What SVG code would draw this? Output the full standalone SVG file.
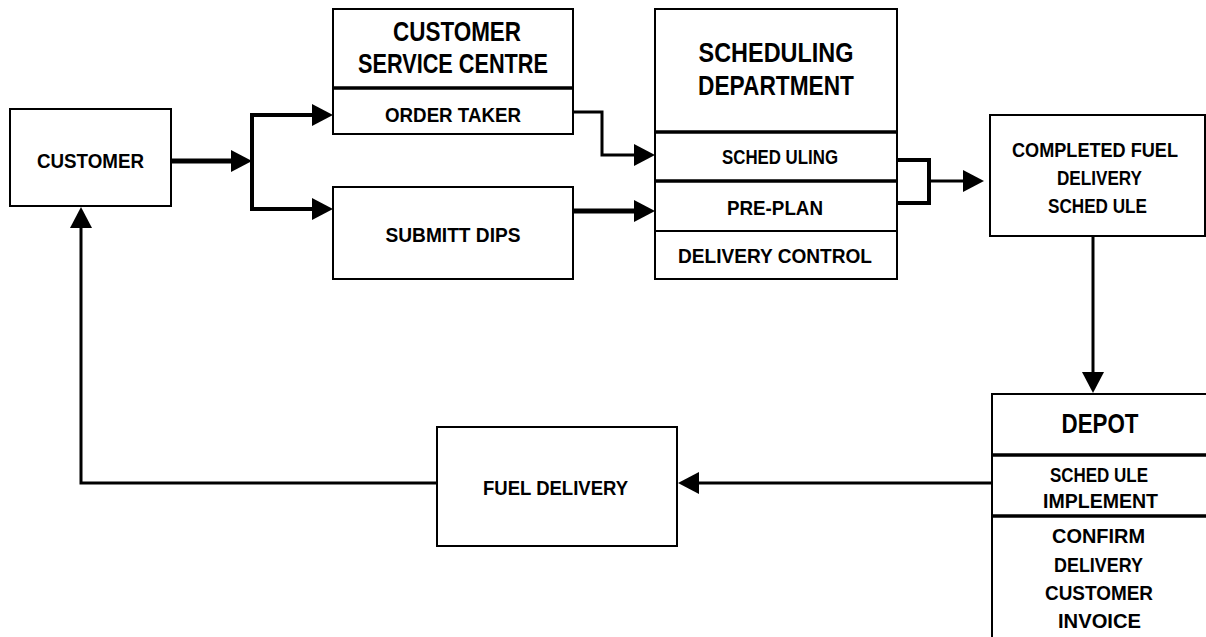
<svg xmlns="http://www.w3.org/2000/svg" width="1206" height="637" viewBox="0 0 1206 637">
<style>
.box{fill:#fff;stroke:#000;stroke-width:2}
.div{stroke:#000;stroke-width:3.5}
.t{font-family:"Liberation Sans",Arial,sans-serif;font-weight:bold;font-size:21px;text-anchor:middle;fill:#000}
.h{font-size:28px}
.c{fill:none;stroke:#000;stroke-width:3;stroke-linejoin:miter}
.k{stroke-width:5}
</style>
<defs>
<marker id="ah" markerUnits="userSpaceOnUse" markerWidth="22" markerHeight="24" refX="0" refY="12" orient="auto" viewBox="0 0 22 24" overflow="visible">
<path d="M0,1 L21,12 L0,23 Z" fill="#000"/>
</marker>
</defs>
<rect width="1206" height="637" fill="#fff"/>

<g id="customer">
<rect class="box" x="10" y="109" width="161" height="97"/>
<text class="t" x="90.5" y="168" textLength="107" lengthAdjust="spacingAndGlyphs">CUSTOMER</text>
</g>

<g id="customer-service-centre">
<rect class="box" x="333" y="9" width="240" height="125"/>
<line class="div" x1="333" y1="88" x2="573" y2="88"/>
<text class="t h" x="457" y="41" textLength="128" lengthAdjust="spacingAndGlyphs">CUSTOMER</text>
<text class="t h" x="453" y="73" textLength="190" lengthAdjust="spacingAndGlyphs">SERVICE CENTRE</text>
<text class="t" x="453" y="122" textLength="136" lengthAdjust="spacingAndGlyphs">ORDER TAKER</text>
</g>

<g id="submitt-dips">
<rect class="box" x="333" y="187" width="240" height="92"/>
<text class="t" x="453" y="242" textLength="135" lengthAdjust="spacingAndGlyphs">SUBMITT DIPS</text>
</g>

<g id="scheduling-department">
<rect class="box" x="655" y="9" width="242" height="270"/>
<line class="div" x1="655" y1="132" x2="897" y2="132"/>
<line class="div" x1="655" y1="181" x2="897" y2="181"/>
<line class="box" x1="655" y1="231" x2="897" y2="231"/>
<text class="t h" x="776" y="62" textLength="155" lengthAdjust="spacingAndGlyphs">SCHEDULING</text>
<text class="t h" x="776" y="95" textLength="156" lengthAdjust="spacingAndGlyphs">DEPARTMENT</text>
<text class="t" x="780" y="164" textLength="116" lengthAdjust="spacingAndGlyphs">SCHED ULING</text>
<text class="t" x="775" y="215" textLength="96" lengthAdjust="spacingAndGlyphs">PRE-PLAN</text>
<text class="t" x="775" y="263" textLength="194" lengthAdjust="spacingAndGlyphs">DELIVERY CONTROL</text>
</g>

<g id="completed-schedule">
<rect class="box" x="990" y="115" width="215" height="121"/>
<text class="t" x="1095" y="157" textLength="166" lengthAdjust="spacingAndGlyphs">COMPLETED FUEL</text>
<text class="t" x="1099.5" y="185" textLength="85" lengthAdjust="spacingAndGlyphs">DELIVERY</text>
<text class="t" x="1097.5" y="213" textLength="99" lengthAdjust="spacingAndGlyphs">SCHED ULE</text>
</g>

<g id="depot">
<rect class="box" x="992" y="394" width="230" height="260"/>
<line class="div" x1="992" y1="455" x2="1222" y2="455"/>
<line class="div" x1="992" y1="516" x2="1222" y2="516"/>
<text class="t h" x="1100" y="433" textLength="77" lengthAdjust="spacingAndGlyphs">DEPOT</text>
<text class="t" x="1099" y="482" textLength="98" lengthAdjust="spacingAndGlyphs">SCHED ULE</text>
<text class="t" x="1100.5" y="508" textLength="115" lengthAdjust="spacingAndGlyphs">IMPLEMENT</text>
<text class="t" x="1098.5" y="543" textLength="93" lengthAdjust="spacingAndGlyphs">CONFIRM</text>
<text class="t" x="1098.5" y="572" textLength="89" lengthAdjust="spacingAndGlyphs">DELIVERY</text>
<text class="t" x="1099" y="600" textLength="108" lengthAdjust="spacingAndGlyphs">CUSTOMER</text>
<text class="t" x="1099.5" y="628" textLength="83" lengthAdjust="spacingAndGlyphs">INVOICE</text>
</g>

<g id="fuel-delivery">
<rect class="box" x="437" y="427" width="240" height="119"/>
<text class="t" x="555.5" y="495" textLength="145" lengthAdjust="spacingAndGlyphs">FUEL DELIVERY</text>
</g>

<g id="connectors">
<polyline class="c k" points="171,161 231,161" marker-end="url(#ah)"/>
<polyline class="c" style="stroke-width:4" points="312,115 252,115 252,209 312,209"/>
<line class="c" x1="300" y1="115" x2="312" y2="115" marker-end="url(#ah)"/>
<line class="c" x1="300" y1="209" x2="312" y2="209" marker-end="url(#ah)"/>
<polyline class="c" points="573,112 602,112 602,155 634,155" marker-end="url(#ah)"/>
<polyline class="c k" points="573,211 634,211" marker-end="url(#ah)"/>
<polyline class="c" style="stroke-width:4" points="897,160 929,160 929,203 897,203"/>
<polyline class="c" points="929,181 963,181" marker-end="url(#ah)"/>
<polyline class="c" points="1093,236 1093,372" marker-end="url(#ah)"/>
<polyline class="c" points="992,483 699,483" marker-end="url(#ah)"/>
<polyline class="c" points="437,483 81,483 81,228" marker-end="url(#ah)"/>
</g>
</svg>
